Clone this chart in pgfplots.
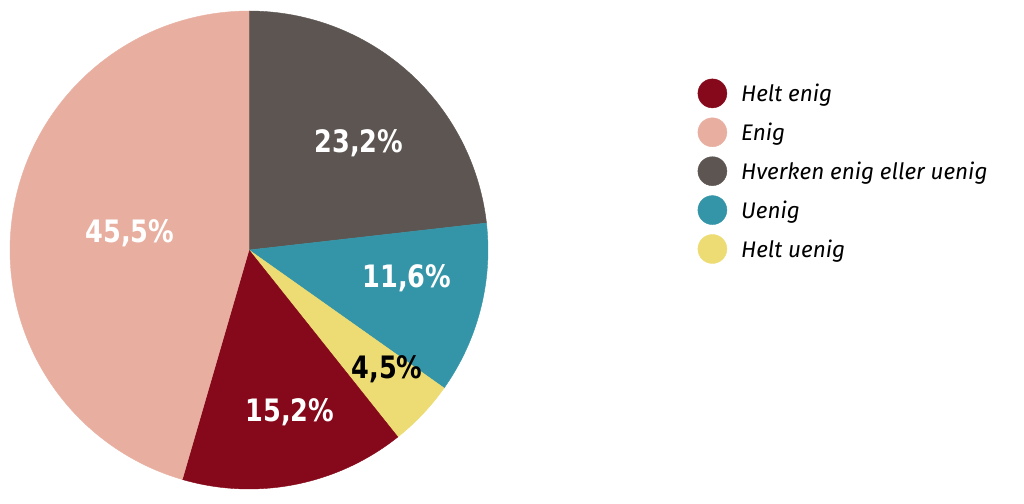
\documentclass[border=0pt]{standalone}
\usepackage{pgfplots}
\pgfplotsset{compat=1.18}
\usepackage{pgfplotstable}
\usepackage{fontspec}
\newfontfamily\labelfont[FakeStretch=0.92]{DejaVu Sans Condensed}
\newfontfamily\legendfont{Fira Sans}

\definecolor{cHeltEnig}{HTML}{85091A}
\definecolor{cEnig}{HTML}{E8AFA1}
\definecolor{cHverken}{HTML}{5C5552}
\definecolor{cUenig}{HTML}{3595A8}
\definecolor{cHeltUenig}{HTML}{EDDC74}

% slices, clockwise from 12 o'clock (percent)
\pgfplotstableread[col sep=comma]{
name,value,color
Hverken enig eller uenig,23.2,cHverken
Uenig,11.6,cUenig
Helt uenig,4.5,cHeltUenig
Helt enig,15.2,cHeltEnig
Enig,45.5,cEnig
}\piedata

% pie centre and radius, in px of the canvas (y up)
\def\cx{249}
\def\cy{254}
\def\rr{239}

\begin{document}
\begin{tikzpicture}
\path[use as bounding box] (0,0) rectangle (1024bp,504bp);
\begin{axis}[
  at={(0,0)}, anchor=south west,
  width=1024bp, height=504bp, scale only axis,
  xmin=0, xmax=1024, ymin=0, ymax=504,
  hide axis, clip=false,
  legend style={at={(axis cs:697.5,425.5)}, anchor=north west,
    draw=none, fill=none, inner sep=0pt, row sep=9.5bp,
    font=\legendfont\itshape\fontsize{22.6}{26}\selectfont,
    /tikz/every odd column/.append style={column sep=12bp}},
  legend cell align=left,
  legend image code/.code={\fill[#1] (0bp,0bp) circle (14.5bp);},
]
\def\angstart{90}
\pgfplotsforeachungrouped \i in {0,...,4}{%
  \pgfplotstablegetelem{\i}{value}\of\piedata \let\val\pgfplotsretval
  \pgfplotstablegetelem{\i}{color}\of\piedata \let\col\pgfplotsretval
  \pgfmathsetmacro\angend{\angstart-3.6*\val}%
  \edef\slice{\noexpand\addplot[forget plot, fill=\col, draw=\col, line width=0.4bp,
      domain=\angend:\angstart, samples=120]
    ({\cx+\rr*cos(x)},{\cy+\rr*sin(x)}) -- (axis cs:\cx,\cy) -- cycle;}%
  \slice
  \let\angstart\angend
}

% percentage labels
\addplot[forget plot, draw=none, mark=none, nodes near coords, point meta=explicit symbolic,
  every node near coord/.style={anchor=center, text=white, inner sep=0pt,
    font=\labelfont\bfseries\fontsize{31}{31}\selectfont}]
  coordinates {(359,361) [23,2\%] (407,226) [11,6\%] (290,92) [15,2\%] (130,271) [45,5\%]};
\addplot[forget plot, draw=none, mark=none, nodes near coords, point meta=explicit symbolic,
  every node near coord/.style={anchor=center, text=black, inner sep=0pt,
    font=\labelfont\bfseries\fontsize{31}{31}\selectfont}]
  coordinates {(387,135) [4,5\%]};

\addlegendimage{cHeltEnig}\addlegendentry{Helt enig}
\addlegendimage{cEnig}\addlegendentry{Enig}
\addlegendimage{cHverken}\addlegendentry{Hverken enig eller uenig}
\addlegendimage{cUenig}\addlegendentry{Uenig}
\addlegendimage{cHeltUenig}\addlegendentry{Helt uenig}
\end{axis}
\end{tikzpicture}
\end{document}
